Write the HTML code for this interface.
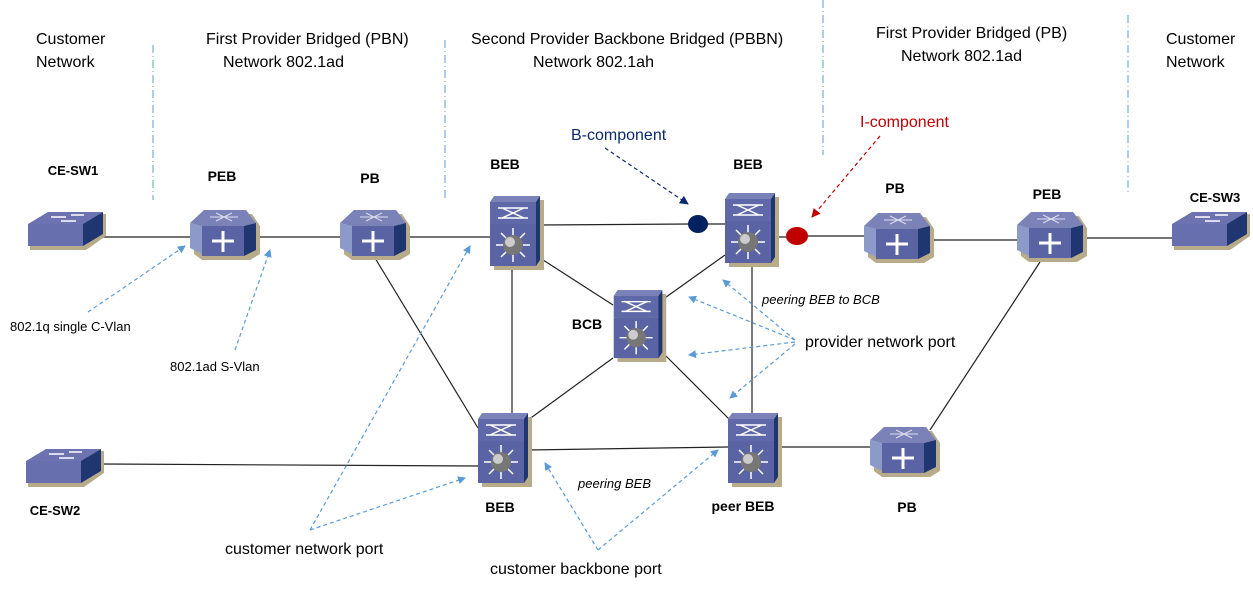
<!DOCTYPE html>
<html><head><meta charset="utf-8"><style>
html,body{margin:0;padding:0;background:#fff;}
svg{display:block;}
text{font-family:"Liberation Sans",sans-serif;}
</style></head><body>
<svg width="1253" height="591" viewBox="0 0 1253 591" xmlns="http://www.w3.org/2000/svg">
<defs>
<marker id="ab" markerWidth="8" markerHeight="8" refX="7" refY="4" orient="auto" markerUnits="userSpaceOnUse"><path d="M0,0 L8,4 L0,8 z" fill="#5b9bd5"/></marker>
<marker id="an" markerWidth="9" markerHeight="9" refX="8" refY="4.5" orient="auto" markerUnits="userSpaceOnUse"><path d="M0,0 L9,4.5 L0,9 z" fill="#0d2a6b"/></marker>
<marker id="ar" markerWidth="9" markerHeight="9" refX="8" refY="4.5" orient="auto" markerUnits="userSpaceOnUse"><path d="M0,0 L9,4.5 L0,9 z" fill="#c00000"/></marker>
<symbol id="sw" viewBox="0 0 80 38">
<path d="M4,14 L24,2 L80,2 L80,24 L60,38 L4,38 z" fill="#b8ab8a"/>
<path d="M2,12 L22,0 L77,0 L57,12 z" fill="#6c73b0"/>
<path d="M2,12 L57,12 L57,34 L2,34 z" fill="#676fae"/>
<path d="M57,12 L77,0 L77,22 L57,34 z" fill="#1f3670"/>
<path d="M25,5 L40,5 M35,9 L50,9 M45,3 L58,3" stroke="#fff" stroke-width="1.5"/>
</symbol>
<symbol id="hx" viewBox="0 0 70 50">
<path d="M4,16 L18,4 L62,4 L70,16 L70,44 L60,50 L12,50 L4,44 z" fill="#b8ab8a"/>
<path d="M0,13 L14,0 L56,0 L66,13 L54,16 L12,16 z" fill="#7a82b8"/>
<path d="M0,13 L12,16 L12,44 L0,38 z" fill="#8b9ac9"/>
<path d="M12,16 L54,16 L54,46 L12,46 z" fill="#5a63a3"/>
<path d="M54,16 L66,13 L66,40 L54,46 z" fill="#1f3670"/>
<path d="M20,7 L48,7 M26,3 L42,11 M26,11 L42,3" stroke="#dde" stroke-width="1"/>
<path d="M33,21 L33,42 M22,31 L44,31" stroke="#fff" stroke-width="3"/>
</symbol>
<symbol id="st" viewBox="0 0 54 74">
<rect x="4" y="4" width="50" height="70" fill="#b8ab8a"/>
<path d="M0,6 L4,0 L50,0 L46,6 z" fill="#7a82b8"/>
<rect x="0" y="6" width="46" height="22" fill="#5f68a8"/>
<rect x="0" y="28" width="46" height="42" fill="#5a63a3"/>
<path d="M46,6 L50,0 L50,64 L46,70 z" fill="#1f3670"/>
<path d="M8,12 L38,12 M8,22 L38,22 M12,12 L34,22 M12,22 L34,12" stroke="#fff" stroke-width="1.5"/>
<path d="M23,32 L23,66 M6,49 L40,49 M11,37 L35,61 M11,61 L35,37" stroke="#fff" stroke-width="1.5"/>
<circle cx="23" cy="49" r="10" fill="#777"/><circle cx="20" cy="46" r="5" fill="#ccc"/>
</symbol>
</defs>

<!-- dividers -->
<g stroke="#5b9bd5" stroke-width="1" stroke-dasharray="8,3,1,3">
<line x1="153" y1="45" x2="153" y2="200"/>
<line x1="445" y1="40" x2="445" y2="200"/>
<line x1="823" y1="0" x2="823" y2="155"/>
<line x1="1128" y1="15" x2="1128" y2="195"/>
</g>

<!-- connections -->
<g stroke="#222" stroke-width="1.2" fill="none">
<line x1="103" y1="237" x2="192" y2="237"/>
<line x1="257" y1="237" x2="342" y2="237"/>
<line x1="407" y1="237" x2="492" y2="237"/>
<line x1="540" y1="225" x2="690" y2="224"/>
<line x1="706" y1="224" x2="727" y2="224"/>
<line x1="773" y1="237" x2="790" y2="237"/>
<line x1="806" y1="236" x2="864" y2="236"/>
<line x1="930" y1="240" x2="1018" y2="240"/>
<line x1="1083" y1="238" x2="1172" y2="238"/>
<line x1="375" y1="258" x2="478" y2="428"/>
<line x1="512" y1="266" x2="512" y2="413"/>
<line x1="540" y1="258" x2="613" y2="305"/>
<line x1="725" y1="255" x2="662" y2="300"/>
<line x1="752" y1="263" x2="752" y2="413"/>
<line x1="613" y1="358" x2="528" y2="420"/>
<line x1="662" y1="352" x2="730" y2="420"/>
<line x1="528" y1="450" x2="728" y2="447"/>
<line x1="778" y1="447" x2="870" y2="447"/>
<line x1="930" y1="430" x2="1040" y2="262"/>
<line x1="101" y1="464" x2="478" y2="466"/>
</g>

<!-- devices -->
<use href="#sw" x="26" y="212" width="80" height="38"/>
<use href="#sw" x="1170" y="212" width="80" height="38"/>
<use href="#sw" x="24" y="449" width="80" height="38"/>
<use href="#hx" x="190" y="210" width="70" height="50"/>
<use href="#hx" x="340" y="210" width="70" height="50"/>
<use href="#hx" x="864" y="213" width="70" height="50"/>
<use href="#hx" x="1017" y="212" width="70" height="50"/>
<use href="#hx" x="870" y="427" width="70" height="50"/>
<use href="#st" x="490" y="196" width="54" height="74"/>
<use href="#st" x="725" y="193" width="54" height="74"/>
<use href="#st" x="613" y="290" width="54" height="72"/>
<use href="#st" x="478" y="413" width="54" height="74"/>
<use href="#st" x="728" y="413" width="54" height="74"/>

<ellipse cx="698" cy="224" rx="10" ry="9" fill="#002060"/>
<ellipse cx="797" cy="236" rx="11" ry="9" fill="#c00000"/>

<!-- dashed arrows -->
<g stroke="#5b9bd5" stroke-width="1.2" stroke-dasharray="4,3" fill="none" marker-end="url(#ab)">
<line x1="88" y1="312" x2="185" y2="246"/>
<line x1="235" y1="350" x2="270" y2="250"/>
<line x1="310" y1="530" x2="470" y2="246"/>
<line x1="310" y1="530" x2="465" y2="478"/>
<line x1="598" y1="550" x2="545" y2="463"/>
<line x1="598" y1="550" x2="718" y2="450"/>
<line x1="795" y1="340" x2="723" y2="280"/>
<line x1="795" y1="340" x2="689" y2="297"/>
<line x1="795" y1="342" x2="689" y2="355"/>
<line x1="795" y1="344" x2="730" y2="398"/>
</g>
<line x1="605" y1="148" x2="688" y2="204" stroke="#0d2a6b" stroke-width="1.2" stroke-dasharray="4,3" marker-end="url(#an)"/>
<line x1="880" y1="136" x2="812" y2="217" stroke="#c00000" stroke-width="1.2" stroke-dasharray="4,3" marker-end="url(#ar)"/>

<!-- text -->
<g font-size="16" fill="#000">
<text x="36" y="44">Customer</text>
<text x="36" y="67">Network</text>
<text x="206" y="44">First Provider Bridged (PBN)</text>
<text x="223" y="67">Network 802.1ad</text>
<text x="471" y="44">Second Provider Backbone Bridged (PBBN)</text>
<text x="533" y="67">Network 802.1ah</text>
<text x="876" y="38">First Provider Bridged (PB)</text>
<text x="901" y="61">Network 802.1ad</text>
<text x="1166" y="44">Customer</text>
<text x="1166" y="67">Network</text>
<text x="571" y="140" fill="#0d2a6b">B-component</text>
<text x="860" y="127" fill="#c00000">I-component</text>
<text x="805" y="347">provider network port</text>
<text x="225" y="554">customer network port</text>
<text x="490" y="574">customer backbone port</text>
</g>
<g font-size="14" font-weight="bold" fill="#000" text-anchor="middle">
<text x="73" y="175" font-size="13">CE-SW1</text>
<text x="222" y="181">PEB</text>
<text x="370" y="183">PB</text>
<text x="505" y="169">BEB</text>
<text x="748" y="169">BEB</text>
<text x="895" y="193">PB</text>
<text x="1047" y="199">PEB</text>
<text x="1215" y="202" font-size="13">CE-SW3</text>
<text x="587" y="329">BCB</text>
<text x="500" y="512">BEB</text>
<text x="743" y="511">peer BEB</text>
<text x="907" y="512">PB</text>
<text x="55" y="515" font-size="13">CE-SW2</text>
</g>
<g font-size="13" fill="#000">
<text x="10" y="331">802.1q  single C-Vlan</text>
<text x="170" y="371">802.1ad S-Vlan</text>
<text x="762" y="304" font-style="italic">peering BEB to BCB</text>
<text x="578" y="488" font-style="italic">peering BEB</text>
</g>
</svg>
</body></html>
